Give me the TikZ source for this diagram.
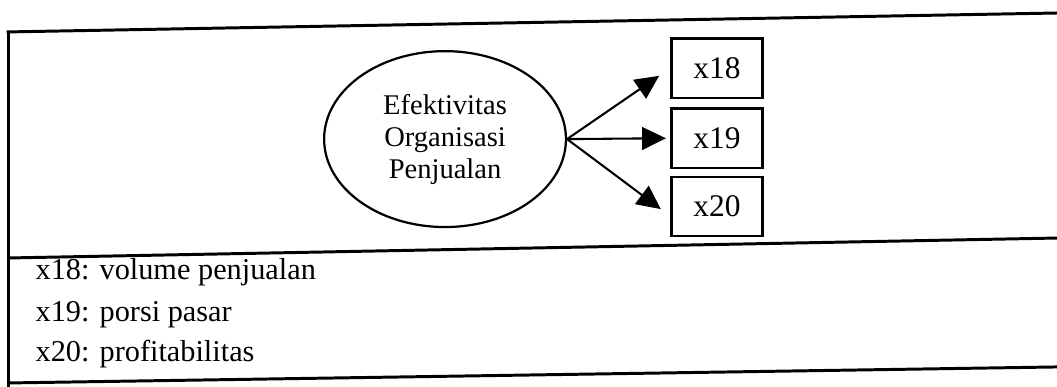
\documentclass[tikz,border=0pt]{standalone}
\usepackage{fontspec}
\setmainfont{Liberation Serif}
\usetikzlibrary{positioning,arrows.meta,shapes.geometric}

\begin{document}
\begin{tikzpicture}[
		konstruk/.style={ellipse, draw, line width=0.75pt, minimum width=2.86cm, minimum height=2.08cm, inner sep=0pt, align=center, font=\fontsize{9.6}{10.8}\selectfont},
		indikator/.style={rectangle, draw, line width=0.8pt, minimum width=1.08cm, minimum height=0.70cm, inner sep=0pt, font=\fontsize{10.6}{13}\selectfont},
		panah/.style={-{Triangle[length=8pt, width=7.6pt]}, line width=0.7pt},
		garis/.style={line width=1pt},
		ket/.style={anchor=base west, inner sep=0pt, font=\fontsize{10.2}{14}\selectfont}
	]
	\useasboundingbox (0,0) rectangle (12.5,4.565);
	\clip (0,0) rectangle (12.5,4.565);
	\draw[garis] (0.095,-0.1) -- (0.095,4.187);
	\draw[garis] (0.078,4.187) -- (12.6,4.413);
	\draw[garis] (0.095,1.514) -- (12.6,1.752);
	\draw[garis] (0.095,0.036) -- (12.6,0.227);

	\node[konstruk] (efektivitas) at (5.263,2.92) {Efektivitas\\Organisasi\\Penjualan};
	\node[indikator] (x19) at (8.479,2.93) {x19};
	\node[indikator, above=0.1cm of x19] (x18) {x18};
	\node[indikator, below=0.08cm of x19] (x20) {x20};

	\draw[panah] (efektivitas.east) -- ([shift={(-0.13,-0.09)}]x18.west);
	\draw[panah] (efektivitas.east) -- ([xshift=-0.05cm]x19.west);
	\draw[panah] (efektivitas.east) -- ([shift={(-0.11,-0.03)}]x20.west);

	\node[ket] (ket18) at (0.414,1.254) {x18: volume penjualan};
	\node[ket] (ket19) at ([yshift=-0.497cm]ket18.base west) {x19: porsi pasar};
	\node[ket] (ket20) at ([yshift=-0.473cm]ket19.base west) {x20: profitabilitas};
\end{tikzpicture}
\end{document}
